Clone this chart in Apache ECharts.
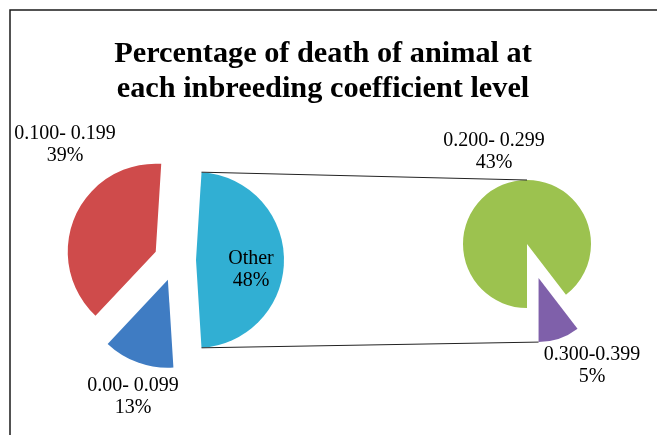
<!DOCTYPE html>
<html>
<head>
<meta charset="utf-8">
<script src="https://cdn.jsdelivr.net/npm/echarts@6/dist/echarts.min.js"></script>
<style>
html,body{margin:0;padding:0;background:#fff;}
#main{width:657px;height:435px;}
</style>
</head>
<body>
<div id="main"></div>
<script>
// ---- data ----
const titleText = 'Percentage of death of animal at\neach inbreeding coefficient level';
const mainNames = ['Other', '0.00- 0.099', '0.100- 0.199'];
const mainValues = [48, 13, 39];
const subNames = ['0.300-0.399', '0.200- 0.299'];
const subValues = [5, 43];

// ---- styles / layout ----
const mainColors = ['#31AFD3', '#3F7CC3', '#CF4B4B'];
const subColors = ['#7F60AA', '#9CC24F'];
const labelPos = [
  [[251, 270], [133, 397], [65, 145]],
  [[592, 366], [494, 152]]
];
const FONT = '"Liberation Serif", "Times New Roman", serif';
const mainPie = {center: [175, 260], radius: 88, startAngle: 86.4};
const subPie = {center: [527, 244], radius: 64, startAngle: 307.5};
const mainOffset = 21;
const subOffset = 36;

const chart = echarts.init(document.getElementById('main'), null, {renderer: 'canvas'});

function makeLayout(si) {
  return function (params) {
    const p = labelPos[si][params.dataIndex];
    return {x: p[0], y: p[1], align: 'center', verticalAlign: 'middle'};
  };
}

const labelCommon = {
  show: true,
  position: 'inside',
  formatter: '{b}\n{c}%',
  fontFamily: FONT,
  fontSize: 20,
  lineHeight: 22,
  color: '#000',
  align: 'center'
};

function sectorSeries(geo, names, values, colors, offset, selFn) {
  return {
    type: 'pie',
    center: geo.center,
    radius: geo.radius,
    startAngle: geo.startAngle,
    clockwise: true,
    selectedMode: 'multiple',
    selectedOffset: offset,
    emphasis: {disabled: true},
    label: {show: false},
    labelLine: {show: false},
    data: names.map((n, i) => ({
      name: n, value: values[i], selected: selFn(i),
      itemStyle: {color: colors[i]},
      select: {itemStyle: {color: colors[i], borderWidth: 0}}
    }))
  };
}
function labelSeries(geo, names, values, si) {
  return {
    type: 'pie',
    center: geo.center,
    radius: geo.radius,
    startAngle: geo.startAngle,
    clockwise: true,
    selectedMode: false,
    silent: true,
    z: 5,
    avoidLabelOverlap: false,
    emphasis: {disabled: true},
    itemStyle: {color: 'rgba(0,0,0,0)'},
    label: labelCommon,
    labelLine: {show: false},
    labelLayout: makeLayout(si),
    data: names.map((n, i) => ({name: n, value: values[i]}))
  };
}

chart.setOption({
  animation: false,
  title: {
    text: titleText,
    left: 318,
    top: 32,
    textAlign: 'center',
    textStyle: {fontFamily: FONT, fontSize: 30.3, fontWeight: 'bold', color: '#000', lineHeight: 35}
  },
  series: [
    sectorSeries(mainPie, mainNames, mainValues, mainColors, mainOffset, () => true),
    sectorSeries(subPie, subNames, subValues, subColors, subOffset, i => i === 0),
    labelSeries(mainPie, mainNames, mainValues, 0),
    labelSeries(subPie, subNames, subValues, 1)
  ]
});

// connector lines derived from library layout
function pt(layout, ang, off) {
  const mid = (layout.startAngle + layout.endAngle) / 2;
  return [
    layout.cx + off * Math.cos(mid) + layout.r * Math.cos(ang),
    layout.cy + off * Math.sin(mid) + layout.r * Math.sin(ang)
  ];
}
const model = chart.getModel();
const d0 = model.getSeriesByIndex(0).getData();
const d1 = model.getSeriesByIndex(1).getData();
const otherL = d0.getItemLayout(0);
const purpleL = d1.getItemLayout(0);
const greenL = d1.getItemLayout(1);
const p1 = pt(otherL, otherL.startAngle, mainOffset);
const p2 = pt(otherL, otherL.endAngle, mainOffset);
const q1 = [greenL.cx, greenL.cy - greenL.r];
const q2 = pt(purpleL, purpleL.endAngle, subOffset);

chart.setOption({
  graphic: [
    {type: 'polyline', silent: true, z: 100,
     shape: {points: [[10, 436], [10, 10], [658, 10]]},
     style: {stroke: '#1a1a1a', lineWidth: 1.5, fill: null}},
    {type: 'line', silent: true, z: 100,
     shape: {x1: p1[0], y1: p1[1], x2: q1[0], y2: q1[1]},
     style: {stroke: '#222', lineWidth: 1}},
    {type: 'line', silent: true, z: 100,
     shape: {x1: p2[0], y1: p2[1], x2: q2[0], y2: q2[1]},
     style: {stroke: '#222', lineWidth: 1}}
  ]
});
</script>
</body>
</html>
